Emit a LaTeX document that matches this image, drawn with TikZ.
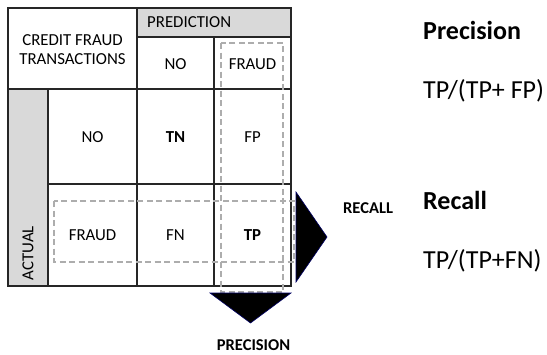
\documentclass[tikz,border=0pt]{standalone}
\usepackage{fontspec}
\setmainfont{Carlito}
\begin{document}
\begin{tikzpicture}[x=1pt,y=-1pt,
  grid/.style={draw=black!85,line width=1.1pt},
  hdr/.style={fill=black!15},
  cell/.style={inner sep=0pt,font=\fontsize{16.8}{20}\selectfont},
  dashbox/.style={draw=black!32,line width=1.4pt,dash pattern=on 6pt off 3.5pt},
  tri/.style={fill=black,draw=blue!40!black,line width=0.6pt,line join=miter},
  axislabel/.style={inner sep=0pt,font=\fontsize{16.5}{20}\selectfont\bfseries},
  heading/.style={inner sep=0pt,anchor=base west,font=\fontsize{26}{30}\selectfont\bfseries},
  formula/.style={inner sep=0pt,anchor=base west,font=\fontsize{26}{30}\selectfont}]
\useasboundingbox (0,0) rectangle (547,354);

% shaded header cells
\fill[hdr] (137,8) rectangle (291,37);
\fill[hdr] (8,89) rectangle (48,286);

% table grid
\draw[grid] (8,8) rectangle (291,286);
\draw[grid] (137,37) -- (291,37);
\draw[grid] (8,89) -- (291,89);
\draw[grid] (48,184) -- (291,184);
\draw[grid] (48,89) -- (48,286);
\draw[grid] (137,8) -- (137,286);
\draw[grid] (214,37) -- (214,286);

% header texts
\node[cell,align=center] (corner) at (72.5,50) {CREDIT FRAUD\\[-1pt]TRANSACTIONS};
\node[cell,anchor=west] (pred) at (147,22.5) {PREDICTION};
\node[cell] (predno) at (175.5,64) {NO};
\node[cell] (predfraud) at (252.5,64) {FRAUD};
\node[cell,rotate=90] (actual) at (28,253) {ACTUAL};

% row labels and counts
\node[cell] (actno) at (92.5,137) {NO};
\node[cell] (tn) at (175.5,137) {\bfseries TN};
\node[cell] (fp) at (252.5,137) {FP};
\node[cell] (actfraud) at (92.5,235) {FRAUD};
\node[cell] (fn) at (175.5,235) {FN};
\node[cell] (tp) at (252.5,235) {\bfseries TP};

% dashed groupings: predicted-fraud column and actual-fraud row
\draw[dashbox] (221,43) rectangle (283,292);
\draw[dashbox] (54,201) rectangle (294,262);

% direction markers
\filldraw[tri] (296,192) -- (327,237) -- (296,282) -- cycle;
\filldraw[tri] (210,293) -- (291,293) -- (250.5,323) -- cycle;
\node[axislabel,anchor=base west] (recalllbl) at (343,213) {RECALL};
\node[axislabel,anchor=base] (precisionlbl) at (253.5,350) {PRECISION};

% formulas
\node[heading] (prechead) at (423,39) {Precision};
\node[formula] (precform) at (423,98) {TP/(TP+ FP)};
\node[heading] (rechead) at (423,209) {Recall};
\node[formula] (recform) at (423,268) {TP/(TP+FN)};
\end{tikzpicture}
\end{document}
